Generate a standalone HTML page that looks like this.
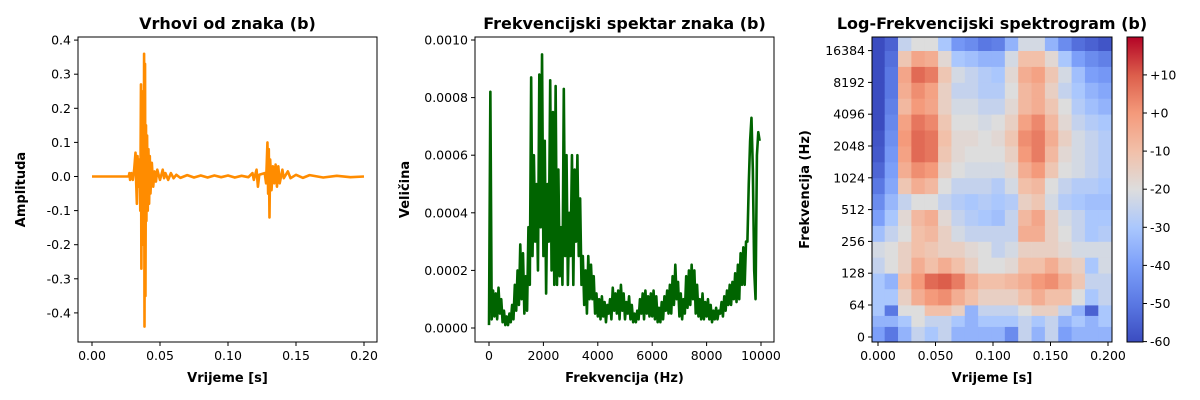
<!DOCTYPE html>
<html><head><meta charset="utf-8"><style>
html,body{margin:0;padding:0;background:#fff;}
svg{display:block;font-family:"DejaVu Sans","Liberation Sans",sans-serif;}
.t{font-size:16px;font-weight:bold;text-anchor:middle;}
.tk{font-size:12.5px;fill:#000;}
.al{font-size:13px;font-weight:bold;text-anchor:middle;}
</style></head><body>
<svg id="chart" width="1200" height="400" viewBox="0 0 1200 400">
<g id="p1"></g>
<g id="p2"></g>
<g id="p3"></g>
<g id="cb"></g>
</svg>
<script>
// ---- waveform data: time (ms) and amplitude ----
const waveT=[0,27,27.5,28,29,30,31,32,32.5,33,33.5,34,35,35.5,36,36.3,36.7,37,37.5,38,38.3,38.6,39,39.3,39.7,40,40.5,41,41.5,42,42.5,43,44,45,46,47,48,50,52,53,54,56,58,60,62,65,70,75,80,85,90,95,100,105,110,115,118,119,121,122,123,127,128,129,129.5,130,130.5,131,132,133,134,135,136,137,138,140,141,144,146,150,155,160,170,180,190,200];
const waveA=[0,0,0.01,-0.01,0.01,-0.01,0.02,0.07,-0.02,-0.08,0.06,-0.03,0.05,-0.1,0.27,-0.27,0.2,-0.15,0.25,-0.2,0.36,-0.44,0.33,-0.35,0.15,-0.13,0.12,-0.1,0.08,-0.08,0.06,-0.05,0.04,-0.03,0.015,-0.015,0.02,-0.01,0.02,-0.005,0.01,-0.01,0.01,-0.005,0.005,-0.004,0.004,-0.003,0.003,-0.003,0.003,-0.002,0.003,-0.003,0.002,-0.002,0.01,-0.01,0.02,-0.03,0.005,0.01,-0.02,0.1,-0.05,0.08,-0.12,0.05,-0.04,0.03,-0.02,0.035,-0.03,0.03,-0.02,0.02,-0.005,0.015,-0.005,0.005,-0.004,0.004,-0.003,0.002,-0.002,0];
const waveYTicks=[-0.4,-0.3,-0.2,-0.1,0.0,0.1,0.2,0.3,0.4];
const waveXTicks=[0,0.05,0.1,0.15,0.2];
// ---- spectrum data: magnitude x1e-4 at 50 Hz steps from 0 ----
const specStep=50;
const specVals=[0.1,8.2,0.3,1.3,0.4,1.2,0.3,1.4,0.5,1.0,0.2,0.6,0.1,0.4,0.1,0.5,0.2,0.8,0.3,1.5,0.6,2.0,0.8,2.9,1.0,2.6,0.5,1.8,0.6,3.5,1.5,8.7,2.5,6.0,3.0,5.0,2.0,8.8,3.5,9.5,2.5,6.5,1.2,5.0,3.0,8.6,2.0,7.5,1.5,8.4,1.5,5.5,1.8,3.5,1.5,8.3,2.5,6.0,1.5,4.0,2.5,6.0,1.5,5.5,3.0,6.0,2.5,4.5,1.5,2.5,0.8,2.0,0.5,2.5,1.0,2.2,1.0,1.8,0.5,1.2,0.4,1.0,0.3,1.1,0.4,0.9,0.2,0.8,0.5,1.0,0.3,1.4,0.6,1.2,0.5,1.3,0.3,1.5,0.6,1.2,0.3,0.9,0.5,1.1,0.3,0.8,0.2,0.5,0.2,0.6,0.3,1.0,0.5,1.2,0.3,1.3,0.5,1.1,0.4,1.2,0.4,1.3,0.3,1.1,0.2,0.7,0.2,0.9,0.3,1.1,0.6,1.3,0.5,1.5,0.5,1.8,0.8,2.2,1.0,1.6,0.4,1.2,0.3,1.0,0.5,1.8,0.7,2.0,0.8,2.2,1.0,2.0,0.5,1.5,0.4,1.0,0.3,1.2,0.3,0.9,0.4,1.0,0.3,0.8,0.2,0.6,0.3,0.7,0.3,0.6,0.5,0.9,0.4,1.1,0.6,1.3,0.8,1.5,0.8,1.6,1.0,1.9,0.9,2.2,1.0,2.6,1.5,2.8,1.5,3.0,3.0,5.0,6.5,7.3,5.5,2.0,1.0,6.0,6.8,6.5];
const specYTicks=[0,0.0002,0.0004,0.0006,0.0008,0.001];
const specXTicks=[0,2000,4000,6000,8000,10000];
// ---- spectrogram data ----
const bandEdges=[0,21,43,64,91,128,181,256,362,512,724,1024,1448,2048,2896,4096,5793,8192,11585,16384,22050];
const frameCount=18;
const sgDb=[
[-40,-50,-35,-25,-30,-25,-35,-35,-35,-35,-45,-25,-35,-25,-40,-35,-35,-35],
[-35,-35,-30,-20,-25,-25,-30,-35,-30,-30,-30,-25,-30,-25,-35,-30,-35,-30],
[-30,-50,-20,-20,-10,-10,-15,-35,-25,-25,-25,-20,-15,-15,-25,-35,-55,-30],
[-30,-30,-15,-5,0,2,-5,-10,-15,-15,-15,-10,-5,-10,-10,-20,-30,-25],
[-30,-35,-10,0,8,10,5,-5,-10,-10,-8,-5,0,2,-5,-12,-25,-25],
[-25,-20,-15,-5,-10,-5,-10,-15,-20,-20,-18,-10,-10,-5,-12,-15,-30,-22],
[-22,-20,-15,-10,-12,-15,-15,-18,-20,-25,-22,-15,-15,-15,-18,-22,-22,-22],
[-32,-25,-20,-10,-8,-15,-22,-25,-25,-25,-25,-5,-5,-15,-20,-25,-30,-28],
[-40,-30,-18,-8,-5,-18,-25,-28,-30,-32,-25,-8,-3,-15,-22,-25,-30,-30],
[-45,-34,-25,-20,-20,-25,-28,-30,-28,-30,-28,-15,-12,-22,-28,-30,-32,-32],
[-50,-38,-12,-5,-8,-20,-25,-25,-25,-28,-22,-10,-8,-20,-25,-28,-28,-30],
[-54,-40,-5,2,0,-15,-20,-22,-22,-22,-18,-5,0,-12,-20,-22,-25,-28],
[-57,-42,-2,8,6,-12,-18,-20,-20,-20,-15,0,5,-8,-18,-22,-25,-28],
[-58,-44,0,8,6,-10,-18,-18,-20,-18,-12,2,5,-5,-15,-22,-25,-28],
[-60,-46,-2,6,3,-12,-20,-20,-22,-20,-15,-2,3,-8,-18,-25,-28,-30],
[-60,-48,-8,0,-3,-15,-22,-22,-25,-25,-18,-8,-5,-12,-20,-28,-32,-35],
[-60,-50,-5,2,-2,-15,-25,-25,-28,-28,-20,-8,-5,-15,-25,-30,-35,-38],
[-60,-50,-3,8,5,-12,-22,-25,-28,-30,-18,-5,-2,-12,-22,-32,-40,-42],
[-60,-52,-12,-3,-5,-18,-30,-32,-35,-35,-22,-10,-10,-18,-30,-40,-45,-48],
[-60,-55,-25,-20,-20,-30,-42,-45,-50,-48,-35,-22,-22,-35,-45,-52,-55,-58]];
const sgYTicks=[0,64,128,256,512,1024,2048,4096,8192,16384];
const sgXTicks=[0,0.05,0.1,0.15,0.2];
const cbTicks=[10,0,-10,-20,-30,-40,-50,-60];

const NS="http://www.w3.org/2000/svg";
function mk(parent,tag,attrs,text){const e=document.createElementNS(NS,tag);for(const k in attrs)e.setAttribute(k,attrs[k]);if(text!==undefined)e.textContent=text;parent.appendChild(e);return e;}

function frame(g,x0,y0,x1,y1,title,xl,yl,ylx){
  const tt=mk(g,'text',{x:(x0+x1)/2,y:y0-8,class:'t'},title);
  
  
  const xt=mk(g,'text',{x:(x0+x1)/2,y:382,class:'al'},xl);
  
  
  const cy=(y0+y1)/2;
  const yt=mk(g,'text',{x:ylx,y:cy,class:'al',transform:`rotate(-90 ${ylx} ${cy})`},yl);
  
  
}
function box(g,x0,y0,x1,y1){const r=mk(g,'rect',{x:x0,y:y0,width:x1-x0,height:y1-y0,fill:'none',stroke:'#000','stroke-width':1});}
function xtick(g,x,y,label){mk(g,'line',{x1:x,x2:x,y1:y,y2:y+4,stroke:'#000'});const t=mk(g,'text',{x:x,y:y+18,class:'tk','text-anchor':'middle'},label);}
function ytick(g,x,y,label){mk(g,'line',{x1:x-4,x2:x,y1:y,y2:y,stroke:'#000'});const t=mk(g,'text',{x:x-7,y:y+4.5,class:'tk','text-anchor':'end'},label);}

// Panel 1
(function(){
  const g=document.getElementById('p1');
  const X=t=>92+t*1360, Y=a=>176.5-a*341;
  frame(g,78,37,377,342,'Vrhovi od znaka (b)','Vrijeme [s]','Amplituda',25);
  let d='';waveT.forEach((t,i)=>{d+=(i?'L':'M')+X(t/1000).toFixed(2)+' '+Y(waveA[i]).toFixed(2);});
  const p=mk(g,'path',{d:d,fill:'none',stroke:'#ff8c00','stroke-width':2.6,'stroke-linejoin':'round'});
  
  
  box(g,78,37,377,342);
  waveXTicks.forEach(v=>xtick(g,X(v),342,v.toFixed(2)));
  waveYTicks.forEach(v=>ytick(g,78,Y(v),v.toFixed(1)));
})();
// Panel 2
(function(){
  const g=document.getElementById('p2');
  const X=f=>489+f*0.0272, Y=v=>328-v*288000;
  frame(g,475,37,774,342,'Frekvencijski spektar znaka (b)','Frekvencija (Hz)','Veličina',409);
  let d='';specVals.forEach((v,i)=>{d+=(i?'L':'M')+X(i*specStep).toFixed(2)+' '+Y(v*1e-4).toFixed(2);});
  const p=mk(g,'path',{d:d,fill:'none',stroke:'#006400','stroke-width':2.6,'stroke-linejoin':'round'});
  
  
  box(g,475,37,774,342);
  specXTicks.forEach(v=>xtick(g,X(v),342,String(v)));
  specYTicks.forEach(v=>ytick(g,475,Y(v),v.toFixed(4)));
})();
// colormap (coolwarm)
const cmStops=[[0,59,76,192],[0.125,90,120,227],[0.25,124,159,249],[0.375,170,199,253],[0.5,221,221,221],[0.625,242,192,169],[0.75,244,154,123],[0.875,220,94,75],[1,180,4,38]];
function cmap(v){let u=(v+60)/80;u=Math.max(0,Math.min(1,u));for(let i=1;i<cmStops.length;i++){if(u<=cmStops[i][0]){const a=cmStops[i-1],b=cmStops[i];const f=(u-a[0])/(b[0]-a[0]);return `rgb(${Math.round(a[1]+f*(b[1]-a[1]))},${Math.round(a[2]+f*(b[2]-a[2]))},${Math.round(a[3]+f*(b[3]-a[3]))})`;}}return 'rgb(180,4,38)';}
// Panel 3
(function(){
  const g=document.getElementById('p3');
  const X=t=>878+t*1150;
  const Y=f=>f<64?337-f/64*32:305-31.8*Math.log2(f/64);
  frame(g,872,37,1112,342,'Log-Frekvencijski spektrogram (b)','Vrijeme [s]','Frekvencija (Hz)',809);
  const hop=512/44100;
  for(let b=0;b<sgDb.length;b++){
    const yTop=Math.max(37,Y(bandEdges[b+1])), yBot=Math.min(342,Y(bandEdges[b])+(b===0?5:0));
    for(let c=0;c<frameCount;c++){
      const x0=Math.max(872,X((c-0.5)*hop)), x1=Math.min(1112,X((c+0.5)*hop));
      const r=mk(g,'rect',{x:x0,y:yTop,width:x1-x0+0.4,height:yBot-yTop+0.4,fill:cmap(sgDb[b][c])});
      
      
    }
  }
  box(g,872,37,1112,342);
  sgXTicks.forEach(v=>xtick(g,X(v),342,v.toFixed(3)));
  sgYTicks.forEach(v=>ytick(g,872,Y(v),String(v)));
})();
// Colorbar
(function(){
  const g=document.getElementById('cb');
  const Y=v=>113-v*3.81;
  const defs=mk(g,'defs',{});
  const lg=mk(defs,'linearGradient',{id:'cg',x1:0,y1:1,x2:0,y2:0});
  cmStops.forEach(s=>mk(lg,'stop',{offset:s[0],'stop-color':`rgb(${s[1]},${s[2]},${s[3]})`}));
  const r=mk(g,'rect',{x:1127,y:37,width:16,height:305,fill:'url(#cg)',stroke:'#000','stroke-width':1});
  
  
  cbTicks.forEach(v=>{const y=Y(v);mk(g,'line',{x1:1143,x2:1147,y1:y,y2:y,stroke:'#000'});
    const t=mk(g,'text',{x:1150,y:y+4.5,class:'tk'},(v>=0?'+':'')+v);
    
    });
})();
</script>
</body></html>
